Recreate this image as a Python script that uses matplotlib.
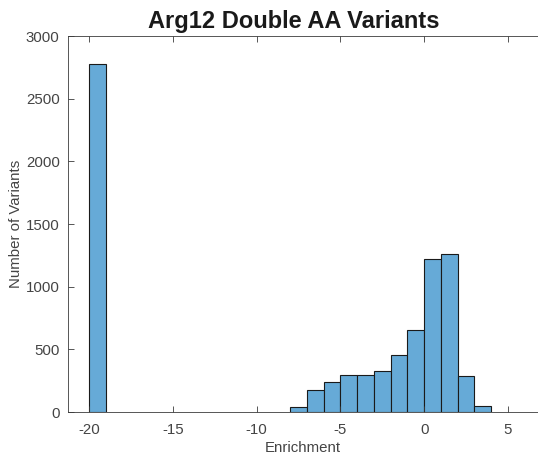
import numpy as np
import matplotlib
matplotlib.use('Agg')
import matplotlib.pyplot as plt

plt.rcParams['font.family'] = ['Liberation Sans', 'DejaVu Sans']
plt.rcParams['axes.unicode_minus'] = False

# histogram bins (left edge, width 1) and counts
bin_left = [-20, -8, -7, -6, -5, -4, -3, -2, -1, 0, 1, 2, 3]
counts = [2775, 40, 172, 242, 295, 295, 324, 457, 651, 1218, 1257, 284, 50]
xticks = [-20, -15, -10, -5, 0, 5]
yticks = [0, 500, 1000, 1500, 2000, 2500, 3000]

face = (0.4, 0.668, 0.845)   # matlab blue at alpha 0.6 on white
axcol = '#3a3a3a'

fig = plt.figure(figsize=(5.38, 4.62), dpi=100)
ax = fig.add_axes([68/538, 50/462, 1 - 68/538, 376/462])

ax.bar(bin_left, counts, width=1.0, align='edge', color=face,
       edgecolor='#1a1a1a', linewidth=0.8)

ax.set_xlim(-21.25, 6.79)
ax.set_ylim(0, 3000)
ax.set_xticks(xticks)
ax.set_yticks(yticks)

ax.spines['right'].set_visible(False)
for s in ['left', 'bottom', 'top']:
    ax.spines[s].set_color(axcol)
    ax.spines[s].set_linewidth(0.6)
ax.tick_params(direction='in', length=4, width=0.6, color=axcol,
               labelcolor='#444444', labelsize=10.8, top=True)
ax.tick_params(axis='x', pad=8)
ax.tick_params(axis='y', pad=6)

ax.set_xlabel('Enrichment', fontsize=10.8, color='#444444', labelpad=3)
ax.set_ylabel('Number of Variants', fontsize=10.8, color='#444444', labelpad=2)
ax.set_title('Arg12 Double AA Variants', fontsize=17, fontweight='bold',
             color='#1a1a1a', pad=6, x=0.481)

fig.savefig('out.png', dpi=100)
